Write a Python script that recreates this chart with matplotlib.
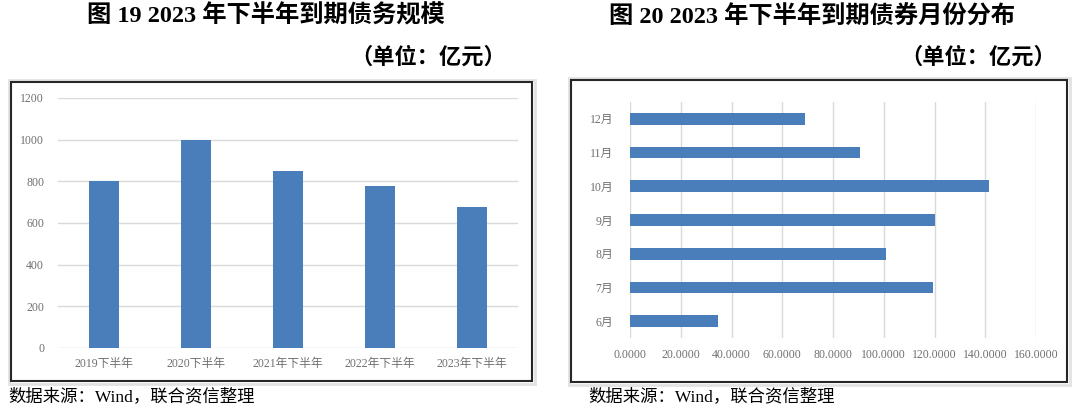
"""2023 年下半年到期债务规模 / 到期债券月份分布 — two-panel recreation."""
import matplotlib
matplotlib.use("Agg")
import matplotlib.pyplot as plt
from matplotlib.patches import Rectangle
from matplotlib.ticker import FormatStrFormatter

# --- data -------------------------------------------------------------------
YEARS = ["2019下半年", "2020下半年", "2021年下半年", "2022年下半年", "2023年下半年"]
YEAR_VALUES = [800, 1000, 850, 777, 676]

MONTHS = ["6月", "7月", "8月", "9月", "10月", "11月", "12月"]
MONTH_VALUES = [34.8, 119.5, 100.8, 120.0, 141.3, 90.7, 68.9]

BAR = "#4a7ebb"
GRID = "#d9d9d9"
TICK = "#6f6f6f"
SERIF = ["Liberation Serif", "Noto Sans CJK SC"]

W, H = 1080, 408
fig = plt.figure(figsize=(W / 100, H / 100), dpi=100)


def px(x0, y0, x1, y1):
    """pixel box (top-left origin) -> figure fraction rect"""
    return [x0 / W, 1 - y1 / H, (x1 - x0) / W, (y1 - y0) / H]


def frame(x0, y0, x1, y1):
    l, b, w, h = px(x0, y0, x1, y1)
    # faint outer shadow, then the dark border
    fig.patches.append(Rectangle((l - 2 / W, b - 3 / H), w + 5 / W, h + 5 / H,
                                 transform=fig.transFigure, fill=False,
                                 edgecolor="#e2e2e2", lw=2))
    fig.patches.append(Rectangle((l, b), w, h, transform=fig.transFigure,
                                 fill=False, edgecolor="#262626", lw=1.5))


def clean(ax):
    for s in ax.spines.values():
        s.set_visible(False)
    ax.tick_params(length=0, colors=TICK, labelsize=8.5)
    for lab in ax.get_xticklabels() + ax.get_yticklabels():
        lab.set_fontfamily(SERIF)


# --- left: yearly totals -----------------------------------------------------
frame(11, 82, 532, 381)
ax1 = fig.add_axes(px(58, 98, 518, 348))
ax1.bar(range(len(YEARS)), YEAR_VALUES, width=0.32, color=BAR, zorder=3)
ax1.set_xlim(-0.5, len(YEARS) - 0.5)
ax1.set_ylim(0, 1200)
ax1.set_yticks(range(0, 1201, 200))
ax1.set_xticks(range(len(YEARS)))
ax1.set_xticklabels(YEARS)
ax1.yaxis.grid(True, color=GRID, lw=1, zorder=0)
ax1.tick_params(axis="x", pad=7)
ax1.tick_params(axis="y", pad=10)
clean(ax1)

# --- right: monthly distribution ---------------------------------------------
frame(571, 80, 1067, 382)
ax2 = fig.add_axes(px(630, 102, 1036, 338))
ax2.barh(range(len(MONTHS)), MONTH_VALUES, height=0.35, color=BAR, zorder=3)
ax2.set_ylim(-0.5, len(MONTHS) - 0.5)
ax2.set_xlim(0, 160)
ax2.set_xticks(range(0, 161, 20))
ax2.xaxis.set_major_formatter(FormatStrFormatter("%.4f"))
ax2.set_yticks(range(len(MONTHS)))
ax2.set_yticklabels(MONTHS)
ax2.xaxis.grid(True, color=GRID, lw=1, zorder=0)
ax2.tick_params(axis="x", pad=8)
ax2.tick_params(axis="y", pad=12)
clean(ax2)

# --- titles and notes --------------------------------------------------------
title_kw = dict(va="center", fontweight="bold", family=SERIF)
fig.text(266 / W, 1 - 16 / H, "图 19 2023 年下半年到期债务规模", ha="center",
         fontsize=17.5, **title_kw)
fig.text(506 / W, 1 - 58 / H, "（单位：亿元）", ha="right", fontsize=16, **title_kw)
fig.text(812 / W, 1 - 16 / H, "图 20 2023 年下半年到期债券月份分布", ha="center",
         fontsize=17.5, **title_kw)
fig.text(1056 / W, 1 - 58 / H, "（单位：亿元）", ha="right", fontsize=16, **title_kw)
fig.text(8 / W, 1 - 397 / H, "数据来源：Wind，联合资信整理", ha="left", va="center",
         fontsize=12.5, family=SERIF)
fig.text(588 / W, 1 - 397 / H, "数据来源：Wind，联合资信整理", ha="left", va="center",
         fontsize=12.5, family=SERIF)

fig.savefig("out.png", dpi=100, facecolor="white")
